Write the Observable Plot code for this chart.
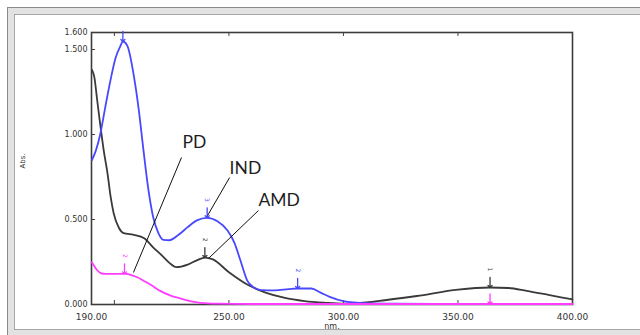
<!DOCTYPE html>
<html>
<head>
<meta charset="utf-8">
<script src="https://cdn.jsdelivr.net/npm/d3@7"></script>
<script src="https://cdn.jsdelivr.net/npm/@observablehq/plot@0.6"></script>
<style>
  html, body { margin: 0; padding: 0; background: #fff; width: 640px; height: 335px; overflow: hidden; }
  #outer { position: absolute; left: 7px; top: 7px; width: 700px; height: 340px; box-sizing: border-box;
           border: 1px solid #8a8a8a; background: #e2e2e2; }
  #inner { position: absolute; left: 6px; top: 6px; width: 700px; height: 316px; box-sizing: border-box;
           border: 1px solid #a6a6a6; background: #fff; }
  #chart { position: absolute; left: 0; top: 0; }
</style>
</head>
<body>
<div id="outer"><div id="inner"></div></div>
<div id="chart"></div>
<script>
// ---- data ----
const amdWl  = [190.2, 191.2, 192.5, 193.8, 195.3, 197, 198.4, 199.7, 202, 204, 208.5, 213, 217, 220.6, 224, 227, 232, 236, 239.5, 243, 250, 259, 266, 274, 283, 292, 300, 310, 318, 332, 350, 364, 372, 380, 390, 400];
const amdAbs = [1.38, 1.34, 1.2, 1.06, 0.91, 0.77, 0.63, 0.535, 0.45, 0.42, 0.41, 0.39, 0.335, 0.29, 0.245, 0.22, 0.235, 0.26, 0.276, 0.265, 0.19, 0.11, 0.07, 0.04, 0.02, 0.01, 0.005, 0.012, 0.025, 0.05, 0.088, 0.1, 0.097, 0.08, 0.055, 0.03];

const indWl  = [190.2, 191.9, 193.8, 196, 198.3, 200.5, 202.6, 203.7, 205.7, 208.3, 210.5, 212.7, 214.9, 217, 219.2, 221.4, 224, 228, 232, 236, 240.5, 245, 249.4, 252.5, 255, 258, 261, 264, 270, 276, 280, 286, 290, 294, 300, 310, 320, 340, 400];
const indAbs = [0.85, 0.905, 1.0, 1.16, 1.32, 1.45, 1.52, 1.547, 1.52, 1.36, 1.16, 0.906, 0.67, 0.51, 0.42, 0.38, 0.378, 0.41, 0.455, 0.495, 0.51, 0.49, 0.435, 0.36, 0.26, 0.14, 0.1, 0.085, 0.083, 0.09, 0.094, 0.094, 0.07, 0.045, 0.02, 0.008, 0.005, 0.003, 0.002];

const pdWl  = [190.2, 191.5, 192.6, 194, 196, 200, 205, 208, 210, 212.7, 216, 220, 224, 229, 233, 237.6, 245, 260, 400];
const pdAbs = [0.247, 0.22, 0.2, 0.185, 0.18, 0.18, 0.18, 0.17, 0.16, 0.14, 0.115, 0.08, 0.055, 0.035, 0.02, 0.01, 0.005, 0.003, 0.003];

// peak markers
const mkSeries = ["IND", "IND", "IND", "AMD", "AMD", "PD", "PD"];
const mkWl     = [203.7, 240.5, 280, 239.5, 364, 204.4, 364];
const mkAbs    = [1.547, 0.51, 0.094, 0.276, 0.1, 0.18, 0.003];
const mkLabel  = ["", "3", "2", "2", "1", "2", ""];

// annotations
const annText = ["PD", "IND", "AMD"];
const annX    = [229.7, 250.3, 262.9];
const annY    = [0.953, 0.80, 0.615];
const leadX1  = [229.3, 250.3, 262.9];
const leadY1  = [0.865, 0.747, 0.553];
const leadX2  = [208.3, 240.7, 241.1];
const leadY2  = [0.188, 0.524, 0.271];

// axes
const xDomain = [190, 400];
const yDomain = [0, 1.6];
const xTickLabels = [190, 250, 300, 350, 400];
const xTickMarks  = [200, 250, 300, 350];
const yTickLabels = [0, 0.5, 1.0, 1.5, 1.6];
const yTickMarks  = [0.5, 1.0, 1.5];

// ---- build ----
const colors = {AMD: "#3a3a3a", IND: "#4848ff", PD: "#ff3cff"};
const toRows = (s, wl, ab) => wl.map((w, i) => ({series: s, wl: w, abs: ab[i]}));
const amd = toRows("AMD", amdWl, amdAbs);
const ind = toRows("IND", indWl, indAbs);
const pd  = toRows("PD", pdWl, pdAbs);
const markers = mkWl.map((w, i) => ({series: mkSeries[i], wl: w, abs: mkAbs[i], label: mkLabel[i]}));
const anns = annText.map((t, i) => ({t, x: annX[i], y: annY[i]}));
const leads = leadX1.map((x, i) => ({x1: x, y1: leadY1[i], x2: leadX2[i], y2: leadY2[i]}));

const W = 640, H = 335, mL = 91, mR = 68, mT = 32, mB = 31;
const pw = W - mL - mR, ph = H - mT - mB;

const chart = Plot.plot({
  width: W, height: H,
  marginLeft: mL, marginRight: mR, marginTop: mT, marginBottom: mB,
  style: {background: "transparent", overflow: "visible"},
  x: {domain: xDomain},
  y: {domain: yDomain},
  marks: [
    Plot.axisY({ticks: yTickLabels, tickSize: 0, tickPadding: 4, tickFormat: d3.format(".3f"),
                fontSize: 8, fontFamily: "DejaVu Sans", fill: "#333", label: null}),
    Plot.axisX({ticks: xTickLabels, tickSize: 0, tickPadding: 9, tickFormat: d3.format(".2f"),
                fontSize: 9, fontFamily: "DejaVu Sans", fill: "#333", label: null}),
    Plot.tickY(yTickMarks, {y: d => d, insetRight: pw - 4, stroke: "#444"}),
    Plot.tickX(xTickMarks, {x: d => d, insetTop: ph - 4, stroke: "#444"}),
    Plot.tickX(xTickMarks, {x: d => d, insetBottom: ph - 4, stroke: "#444"}),
    Plot.frame({stroke: "#3c3c3c", strokeWidth: 1.6}),
    Plot.text(["Abs."], {frameAnchor: "left", dx: -69, rotate: -90, fontSize: 7, fontFamily: "DejaVu Sans", fill: "#333"}),
    Plot.text(["nm."], {frameAnchor: "bottom", dy: 24, fontSize: 8, fontFamily: "DejaVu Sans", fill: "#333"}),
    Plot.line(amd, {x: "wl", y: "abs", stroke: colors.AMD, strokeWidth: 1.8, curve: "monotone-x"}),
    Plot.line(ind, {x: "wl", y: "abs", stroke: colors.IND, strokeWidth: 1.8, curve: "monotone-x"}),
    Plot.line(pd,  {x: "wl", y: "abs", stroke: colors.PD,  strokeWidth: 1.8, curve: "monotone-x"}),
    Plot.vector(markers, {x: "wl", y: "abs", length: 10, rotate: 180, anchor: "end",
                          stroke: d => colors[d.series], strokeWidth: 1.3}),
    Plot.text(markers, {x: "wl", y: "abs", text: "label", dy: -18, rotate: 90, fontSize: 6,
                        fontFamily: "DejaVu Sans", fill: d => colors[d.series]}),
    Plot.link(leads, {x1: "x1", y1: "y1", x2: "x2", y2: "y2", stroke: "#111", strokeWidth: 1}),
    Plot.text(anns, {x: "x", y: "y", text: "t", textAnchor: "start", lineAnchor: "middle",
                     fontSize: 17.5, fontFamily: "Lato", fill: "#1e1e1e"})
  ]
});
document.getElementById("chart").appendChild(chart);
</script>
</body>
</html>
